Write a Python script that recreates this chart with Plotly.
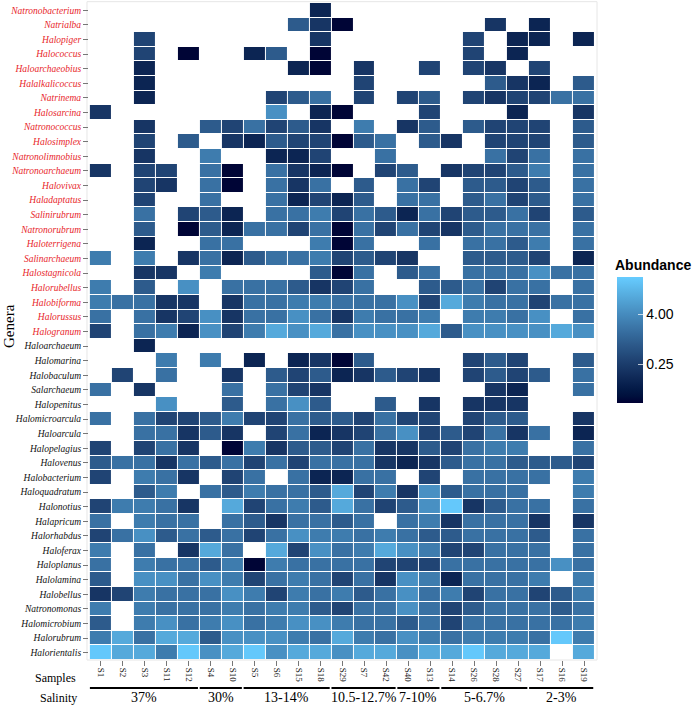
import math
import plotly.graph_objects as go

_ = None

samples = ["S1", "S2", "S3", "S11", "S12", "S4", "S10", "S5", "S6", "S15", "S18", "S29",
           "S7", "S42", "S40", "S13", "S14", "S26", "S28", "S27", "S17", "S16", "S19"]

red_genera = ["Natronobacterium", "Natrialba", "Halopiger", "Halococcus", "Haloarchaeobius",
              "Halalkalicoccus", "Natrinema", "Halosarcina", "Natronococcus", "Halosimplex",
              "Natronolimnobius", "Natronoarchaeum", "Halovivax", "Haladaptatus", "Salinirubrum",
              "Natronorubrum", "Haloterrigena", "Salinarchaeum", "Halostagnicola", "Halorubellus",
              "Halobiforma", "Halorussus", "Halogranum"]
black_genera = ["Haloarchaeum", "Halomarina", "Halobaculum", "Salarchaeum", "Halopenitus",
                "Halomicroarcula", "Haloarcula", "Halopelagius", "Halovenus", "Halobacterium",
                "Haloquadratum", "Halonotius", "Halapricum", "Halorhabdus", "Haloferax",
                "Haloplanus", "Halolamina", "Halobellus", "Natronomonas", "Halomicrobium",
                "Halorubrum", "Halorientalis"]

salinity_groups = ["37%", "30%", "13-14%", "10.5-12.7%", "7-10%", "5-6.7%", "2-3%"]
salinity_members = [["S1", "S2", "S3", "S11", "S12"], ["S4", "S10"], ["S5", "S6", "S15", "S18"],
                    ["S29", "S7", "S42"], ["S40", "S13"], ["S14", "S26", "S28", "S27"],
                    ["S17", "S16", "S19"]]

colorbar_ticks = [0.25, 4.00]
colorbar_ticktext = ["0.25", "4.00"]

# abundance (%) per genus, in sample order above; None = absent
Natronobacterium = [_,_,_,_,_,_,_,_,_,_,0.1,_,_,_,_,_,_,_,_,_,_,_,_]
Natrialba = [_,_,_,_,_,_,_,_,_,0.77,0.19,0.033,_,_,_,_,_,_,0.19,_,0.1,_,_]
Halopiger = [_,_,0.33,_,_,_,_,_,_,_,0.19,_,_,_,_,_,_,0.33,_,0.1,0.1,_,0.1]
Halococcus = [_,_,0.33,_,0.033,_,_,0.1,0.77,_,0.033,_,_,_,_,_,_,0.33,_,0.1,_,_,_]
Haloarchaeobius = [_,_,0.1,_,_,_,_,_,_,0.1,0.033,_,0.19,_,_,0.33,_,0.33,0.19,_,0.33,_,_]
Halalkalicoccus = [_,_,0.1,_,_,_,_,_,_,_,_,_,0.33,_,_,_,_,_,0.77,0.19,0.1,_,0.77]
Natrinema = [_,_,0.1,_,_,_,_,_,0.33,0.77,1.66,_,0.33,_,0.33,0.77,_,0.33,0.19,0.33,0.33,1.66,1.66]
Halosarcina = [0.19,_,_,_,_,_,_,_,4.7,_,0.1,0.033,_,_,_,0.33,_,_,_,0.1,_,_,0.19]
Natronococcus = [_,_,0.19,_,_,0.77,0.33,1.66,0.33,0.77,0.19,_,2.36,_,0.19,0.77,_,0.77,0.33,0.33,0.33,_,0.77]
Halosimplex = [_,_,0.33,_,0.77,_,0.19,0.1,0.77,0.33,0.33,0.033,0.77,1.66,_,0.77,0.19,_,0.33,0.33,0.33,_,0.77]
Natronolimnobius = [_,_,0.19,_,_,2.36,_,_,0.1,0.1,0.33,_,_,1.66,_,_,_,_,1.66,0.33,1.66,_,1.66]
Natronoarchaeum = [0.19,_,0.33,0.33,_,1.66,0.033,_,1.66,0.19,0.1,0.033,_,0.33,0.77,_,0.19,0.33,0.33,0.77,2.36,_,1.66]
Halovivax = [_,_,0.33,0.19,_,1.66,0.033,_,1.66,0.19,1.66,_,0.77,_,1.66,0.33,_,0.77,0.77,0.33,0.77,_,1.66]
Haladaptatus = [_,_,0.33,_,_,1.66,_,_,1.66,0.1,0.33,0.1,0.77,_,1.66,1.66,_,0.77,1.66,0.33,0.77,_,1.66]
Salinirubrum = [_,_,1.66,_,0.33,0.77,0.1,_,1.66,1.66,2.36,0.33,1.66,0.77,0.1,1.66,0.33,0.77,0.77,1.66,0.33,_,0.77]
Natronorubrum = [_,_,0.77,_,0.033,0.77,0.1,1.66,1.66,0.33,1.66,0.033,1.66,0.33,1.66,0.33,0.19,0.77,1.66,1.66,1.66,_,1.66]
Haloterrigena = [_,_,0.1,_,_,1.66,1.66,_,_,_,2.36,0.033,1.66,_,_,1.66,_,1.66,1.66,0.77,2.36,_,1.66]
Salinarchaeum = [2.36,_,2.36,_,0.19,1.66,0.1,0.77,1.66,1.66,2.36,0.33,0.77,0.33,0.19,_,_,0.77,0.77,0.77,0.33,_,0.1]
Halostagnicola = [_,_,0.19,0.19,_,2.36,_,_,_,_,0.77,0.033,1.66,_,0.77,1.66,_,1.66,1.66,1.66,4.7,1.66,1.66]
Halorubellus = [2.36,_,0.77,_,4.7,_,1.66,1.66,1.66,0.77,0.19,0.33,1.66,_,_,0.77,0.77,1.66,0.33,1.66,1.66,_,1.66]
Halobiforma = [2.36,1.66,1.66,0.19,0.19,_,0.19,1.66,1.66,2.36,2.36,1.66,1.66,1.66,4.7,0.33,10.2,2.36,1.66,1.66,0.33,1.66,1.66]
Halorussus = [1.66,_,1.66,0.19,0.33,4.7,0.19,1.66,1.66,4.7,1.66,0.19,2.36,1.66,1.66,2.36,_,2.36,2.36,1.66,4.7,_,1.66]
Halogranum = [0.33,_,1.66,2.36,0.1,4.7,0.33,2.36,10.2,4.7,10.2,1.66,4.7,4.7,4.7,10.2,0.77,4.7,4.7,4.7,4.7,10.2,4.7]
Haloarchaeum = [_,_,0.1,_,_,_,_,_,_,_,_,_,_,_,_,_,_,_,_,_,_,_,_]
Halomarina = [_,_,_,2.36,_,2.36,_,0.1,_,0.1,0.19,0.033,0.77,_,_,_,_,0.33,0.77,0.33,_,_,0.77]
Halobaculum = [_,0.33,_,1.66,_,_,0.19,_,0.77,0.33,0.77,0.1,0.19,0.77,0.33,0.19,_,0.33,0.77,0.33,0.77,_,1.66]
Salarchaeum = [1.66,_,0.19,_,_,_,1.66,_,1.66,0.33,0.19,_,_,_,_,_,_,_,0.19,0.1,_,_,1.66]
Halopenitus = [_,_,_,4.7,_,_,0.77,_,1.66,4.7,0.77,_,_,0.77,_,0.19,_,0.19,0.19,0.19,_,_,_]
Halomicroarcula = [1.66,_,1.66,0.33,0.33,0.77,2.36,0.33,0.33,1.66,0.77,0.77,0.33,1.66,0.33,0.33,_,0.33,0.77,0.77,_,_,0.19]
Haloarcula = [_,_,1.66,1.66,0.19,0.77,0.19,_,0.33,1.66,0.1,0.19,0.33,1.66,4.7,0.33,0.77,0.33,1.66,0.19,1.66,_,0.1]
Halopelagius = [0.33,_,0.33,1.66,0.19,_,0.033,2.36,0.19,0.77,0.77,0.33,1.66,0.19,0.19,0.77,0.33,1.66,2.36,2.36,_,_,1.66]
Halovenus = [0.77,1.66,1.66,0.19,1.66,0.77,1.66,0.33,1.66,0.33,1.66,1.66,1.66,0.19,0.1,0.19,0.77,1.66,1.66,0.77,0.77,0.77,0.33]
Halobacterium = [0.33,_,2.36,1.66,0.19,_,0.33,1.66,_,1.66,0.1,0.1,1.66,1.66,_,0.33,_,1.66,1.66,1.66,1.66,_,2.36]
Haloquadratum = [_,_,0.77,2.36,_,1.66,0.77,2.36,1.66,1.66,0.77,10.2,0.33,2.36,0.19,4.7,0.77,1.66,1.66,1.66,_,_,2.36]
Halonotius = [0.33,2.36,2.36,1.66,0.19,_,10.2,0.33,1.66,2.36,0.77,10.2,1.66,0.33,0.77,4.7,27,0.19,0.77,1.66,1.66,_,1.66]
Halapricum = [1.66,_,2.36,1.66,1.66,_,1.66,0.77,0.19,1.66,1.66,0.77,1.66,_,1.66,2.36,0.19,1.66,1.66,1.66,0.19,_,0.19]
Halorhabdus = [0.33,1.66,4.7,0.77,1.66,0.77,1.66,0.33,1.66,4.7,2.36,2.36,1.66,2.36,1.66,0.77,0.77,1.66,1.66,1.66,0.77,_,1.66]
Haloferax = [2.36,_,1.66,_,0.19,10.2,1.66,_,10.2,0.33,4.7,1.66,2.36,10.2,4.7,2.36,0.33,0.33,1.66,1.66,1.66,_,1.66]
Haloplanus = [1.66,_,2.36,1.66,1.66,0.77,2.36,0.033,2.36,1.66,1.66,1.66,1.66,0.33,0.33,0.33,1.66,1.66,1.66,1.66,1.66,4.7,1.66]
Halolamina = [0.77,_,4.7,4.7,1.66,4.7,2.36,0.33,1.66,2.36,1.66,0.33,1.66,0.19,4.7,2.36,0.1,1.66,1.66,1.66,2.36,_,2.36]
Halobellus = [0.19,0.33,2.36,1.66,1.66,1.66,4.7,2.36,0.33,2.36,1.66,2.36,0.77,1.66,4.7,1.66,2.36,0.33,1.66,1.66,0.33,0.77,2.36]
Natronomonas = [2.36,_,2.36,1.66,1.66,1.66,2.36,1.66,2.36,2.36,0.77,0.33,1.66,1.66,4.7,1.66,0.33,0.77,1.66,1.66,1.66,0.77,1.66]
Halomicrobium = [0.77,_,2.36,4.7,1.66,2.36,4.7,1.66,2.36,4.7,4.7,2.36,1.66,1.66,0.77,1.66,0.33,1.66,1.66,1.66,1.66,1.66,2.36]
Halorubrum = [2.36,10.2,1.66,10.2,10.2,0.77,4.7,4.7,4.7,2.36,1.66,10.2,2.36,1.66,4.7,2.36,1.66,2.36,2.36,2.36,1.66,27,2.36]
Halorientalis = [27,10.2,10.2,2.36,27,4.7,10.2,27,4.7,10.2,10.2,4.7,10.2,10.2,4.7,10.2,10.2,27,10.2,10.2,10.2,_,10.2]

genera = red_genera + black_genera
rows = [globals()[g] for g in genera]
for g, r in zip(genera, rows):
    assert len(r) == len(samples), (g, len(r))

# ---------- colour scale: Lab interpolation dark navy -> light sky blue ----------
def _hex2rgb(h):
    h = h.lstrip("#")
    return [int(h[i:i + 2], 16) / 255 for i in (0, 2, 4)]

def _lin(c):
    return c / 12.92 if c <= 0.04045 else ((c + 0.055) / 1.055) ** 2.4

def _delin(c):
    c = max(0.0, min(1.0, c))
    return 12.92 * c if c <= 0.0031308 else 1.055 * c ** (1 / 2.4) - 0.055

def _rgb2lab(rgb):
    r, g, b = [_lin(c) for c in rgb]
    x = (0.4124 * r + 0.3576 * g + 0.1805 * b) / 0.95047
    y = (0.2126 * r + 0.7152 * g + 0.0722 * b)
    z = (0.0193 * r + 0.1192 * g + 0.9505 * b) / 1.08883
    f = lambda t: t ** (1 / 3) if t > 0.008856 else 7.787 * t + 16 / 116
    fx, fy, fz = f(x), f(y), f(z)
    return [116 * fy - 16, 500 * (fx - fy), 200 * (fy - fz)]

def _lab2hex(lab):
    L, a, b = lab
    fy = (L + 16) / 116
    fx = fy + a / 500
    fz = fy - b / 200
    finv = lambda t: t ** 3 if t ** 3 > 0.008856 else (t - 16 / 116) / 7.787
    x, y, z = finv(fx) * 0.95047, finv(fy), finv(fz) * 1.08883
    r = 3.2406 * x - 1.5372 * y - 0.4986 * z
    g = -0.9689 * x + 1.8758 * y + 0.0415 * z
    bb = 0.0557 * x - 0.2040 * y + 1.0570 * z
    return "#%02x%02x%02x" % tuple(int(round(_delin(c) * 255)) for c in (r, g, bb))

low_lab, high_lab = _rgb2lab(_hex2rgb("#000033")), _rgb2lab(_hex2rgb("#66CCFF"))
colorscale = []
for i in range(21):
    t = i / 20
    colorscale.append([t, _lab2hex([lo + (hi - lo) * t for lo, hi in zip(low_lab, high_lab)])])

z = [[(math.log2(v) if v is not None else None) for v in r] for r in rows]
zmin, zmax = -5.1, 4.96

# plot-area geometry (pixels)
PL, PR, PT, PB = 89, 595, 3, 660
PW, PH = PR - PL, PB - PT
px = lambda x: (x - PL) / PW
py = lambda y: (PB - y) / PH

RED = "#E8262B"
ytext = ["<i><span style='color:%s'>%s</span></i>" % (RED, g) for g in red_genera] + \
        ["<i>%s</i>" % g for g in black_genera]

fig = go.Figure()
fig.add_trace(go.Heatmap(
    z=z, x=samples, y=genera, colorscale=colorscale, zmin=zmin, zmax=zmax,
    xgap=1, ygap=1, hoverongaps=False,
    colorbar=dict(
        tickvals=[math.log2(t) for t in colorbar_ticks], ticktext=colorbar_ticktext,
        tickfont=dict(family="Liberation Sans, Arial", size=14, color="black"),
        ticks="inside", ticklen=5, tickcolor="rgba(255,255,255,0.7)",
        thickness=26, len=126, lenmode="pixels",
        x=px(617), xanchor="left", xpad=0,
        y=py(403), yanchor="bottom", ypad=0,
        outlinewidth=0,
    ),
))

fig.update_layout(
    width=696, height=705,
    margin=dict(l=PL, r=696 - PR, t=PT, b=705 - PB, autoexpand=False),
    paper_bgcolor="white", plot_bgcolor="white",
    font=dict(family="Liberation Serif, Times New Roman", color="black"),
    xaxis=dict(type="category", tickangle=90, ticks="outside", ticklen=5, automargin=False,
               tickcolor="#777777", tickfont=dict(family="Liberation Serif", size=9, color="#222222"),
               showgrid=False, zeroline=False, showline=False),
    yaxis=dict(type="category", autorange="reversed", ticks="outside", ticklen=5, automargin=False,
               tickcolor="#777777", tickvals=genera, ticktext=ytext,
               tickfont=dict(family="Liberation Serif", size=9.5, color="#111111"),
               showgrid=False, zeroline=False, showline=False),
)

# faint panel border
fig.add_shape(type="rect", xref="paper", yref="paper", x0=-0.004, x1=1.004, y0=0, y1=1.002,
              line=dict(color="#e6e6e6", width=1), layer="below")

annots = []
annots.append(dict(text="<b>Abundance</b>", xref="paper", yref="paper", x=px(613), y=py(265),
                   xanchor="left", yanchor="middle", showarrow=False,
                   font=dict(size=14, family="Liberation Sans, Arial", color="black")))
annots.append(dict(text="Genera", xref="paper", yref="paper", x=px(9), y=py(326),
                   xanchor="center", yanchor="middle",
                   textangle=-90, showarrow=False, font=dict(size=15, family="Liberation Serif")))
annots.append(dict(text="Samples", xref="paper", yref="paper", x=px(55), y=py(678),
                   xanchor="center", yanchor="middle",
                   showarrow=False, font=dict(size=12, family="Liberation Serif")))
annots.append(dict(text="Salinity", xref="paper", yref="paper", x=px(58), y=py(698),
                   xanchor="center", yanchor="middle",
                   showarrow=False, font=dict(size=12, family="Liberation Serif")))

for label, members in zip(salinity_groups, salinity_members):
    i0 = samples.index(members[0])
    i1 = samples.index(members[-1])
    fig.add_shape(type="line", xref="x", yref="paper", x0=i0 - 0.5, x1=i1 + 0.42,
                  y0=py(688), y1=py(688), line=dict(color="black", width=1.8))
    annots.append(dict(text=label, xref="x", yref="paper", x=(i0 - 0.5 + i1 + 0.42) / 2,
                       y=py(698), xanchor="center", yanchor="middle", showarrow=False,
                       font=dict(size=14, family="Liberation Serif")))

fig.update_layout(annotations=annots)
fig.write_html("out.html", config={"displayModeBar": False},
               post_script="document.body.style.margin='0';document.body.style.padding='0';")
